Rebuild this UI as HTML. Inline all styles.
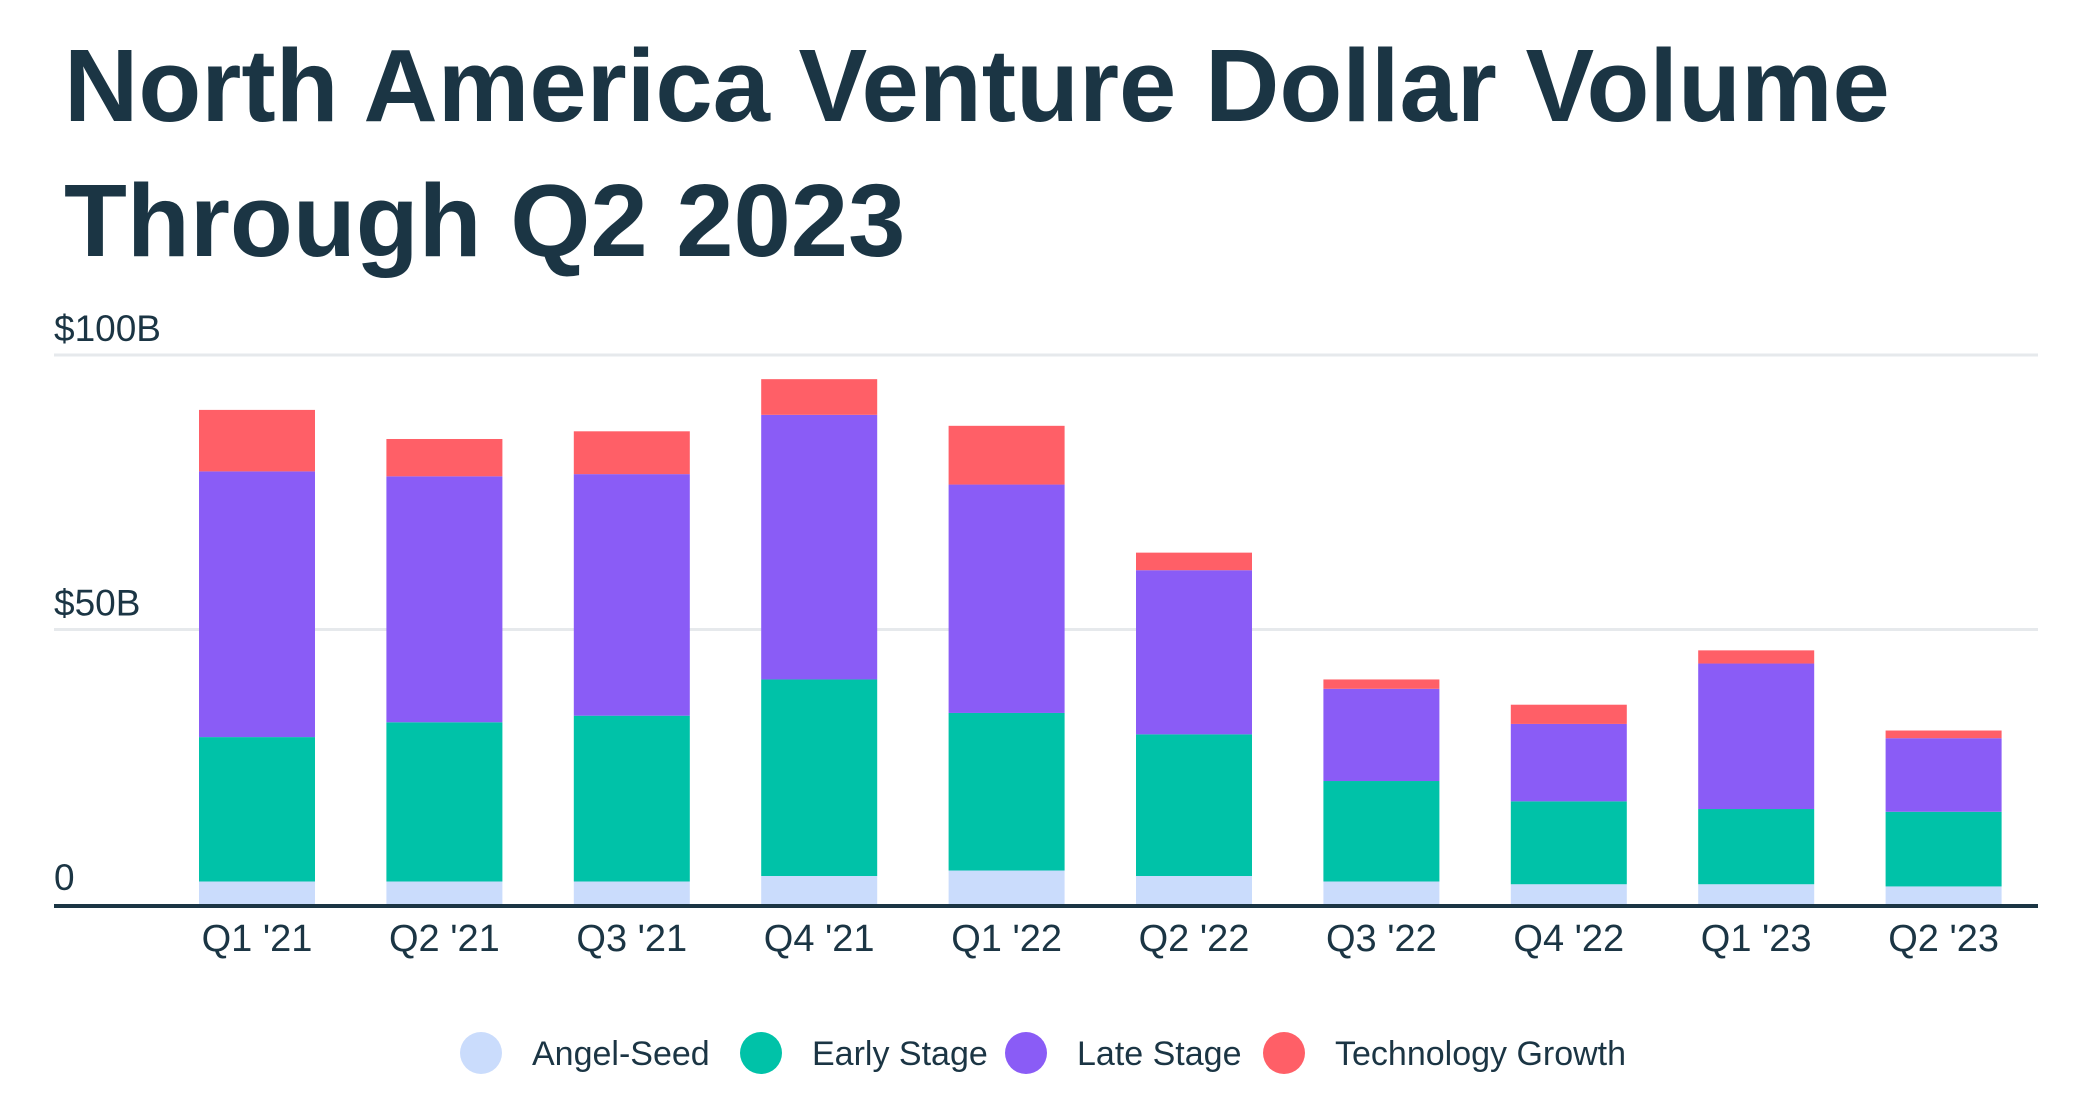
<!DOCTYPE html>
<html><head><meta charset="utf-8">
<style>
html,body{margin:0;padding:0;background:#fff;}
svg{display:block;font-family:"Liberation Sans",sans-serif;}
</style></head>
<body>
<svg id="chart" width="2098" height="1102" viewBox="0 0 2098 1102" xmlns="http://www.w3.org/2000/svg">
  <text x="64" y="121" font-size="103" font-weight="bold" fill="#1b3544">North America Venture Dollar Volume</text>
  <text x="64" y="256" font-size="103" font-weight="bold" fill="#1b3544">Through Q2 2023</text>
  <g id="grid"></g>
  <g id="bars"></g>
  <g id="xlabels"></g>
  <line x1="54" x2="2038" y1="906" y2="906" stroke="#1b3544" stroke-width="4"/>
  <g id="legend"></g>
</svg>
<script>
const categories = ["Q1 '21","Q2 '21","Q3 '21","Q4 '21","Q1 '22","Q2 '22","Q3 '22","Q4 '22","Q1 '23","Q2 '23"];
const angelSeed = [4.1,4.1,4.1,5.1,6.1,5.1,4.1,3.6,3.6,3.2];
const earlyStage = [26.3,29.0,30.2,35.8,28.7,25.8,18.3,15.1,13.7,13.6];
const lateStage = [48.4,44.8,44.0,48.2,41.6,29.9,16.8,14.1,26.5,13.4];
const techGrowth = [11.2,6.8,7.8,6.5,10.7,3.2,1.7,3.5,2.4,1.4];
const yTicks = [0,50,100];
const yTickLabels = ["0","$50B","$100B"];
const seriesNames = ["Angel-Seed","Early Stage","Late Stage","Technology Growth"];

const NS = "http://www.w3.org/2000/svg";
const colors = ["#cadcfc","#00c2a8","#8a5cf6","#ff5f67"];
const series = [angelSeed, earlyStage, lateStage, techGrowth];
const y0 = 904, yTop = 355, vMax = 100;
function yScale(v){ return y0 - (v / vMax) * (y0 - yTop); }
const firstLeft = 199, pitch = 187.4, barW = 116;
function xLeft(i){ return firstLeft + i * pitch; }

const grid = document.getElementById('grid');
yTicks.forEach((t, i) => {
  if (t !== 0) {
    const l = document.createElementNS(NS, 'line');
    l.setAttribute('x1', 54); l.setAttribute('x2', 2038);
    l.setAttribute('y1', yScale(t)); l.setAttribute('y2', yScale(t));
    l.setAttribute('stroke', '#e6e9ec'); l.setAttribute('stroke-width', 3);
    
    
    grid.appendChild(l);
  }
  const tx = document.createElementNS(NS, 'text');
  tx.setAttribute('x', 54);
  tx.setAttribute('y', yScale(t) - 14);
  tx.setAttribute('font-size', 37);
  tx.setAttribute('fill', '#1b3544');
  tx.textContent = yTickLabels[i];
  
  
  grid.appendChild(tx);
});

const bars = document.getElementById('bars');
categories.forEach((c, i) => {
  let cum = 0;
  series.forEach((s, k) => {
    const v = s[i];
    const r = document.createElementNS(NS, 'rect');
    r.setAttribute('x', xLeft(i));
    r.setAttribute('width', barW);
    r.setAttribute('y', yScale(cum + v));
    r.setAttribute('height', yScale(cum) - yScale(cum + v));
    r.setAttribute('fill', colors[k]);
    
    
    bars.appendChild(r);
    cum += v;
  });
  const lbl = document.createElementNS(NS, 'text');
  lbl.setAttribute('x', xLeft(i) + barW / 2);
  lbl.setAttribute('y', 951);
  lbl.setAttribute('text-anchor', 'middle');
  lbl.setAttribute('font-size', 38);
  lbl.setAttribute('fill', '#1b3544');
  lbl.textContent = c;
  
  
  document.getElementById('xlabels').appendChild(lbl);
});

const legend = document.getElementById('legend');
const legX = [481, 761, 1026, 1284];
seriesNames.forEach((n, k) => {
  const g = document.createElementNS(NS, 'g');
  
  
  const c = document.createElementNS(NS, 'circle');
  c.setAttribute('cx', legX[k]); c.setAttribute('cy', 1053); c.setAttribute('r', 21);
  c.setAttribute('fill', colors[k]);
  
  
  const t = document.createElementNS(NS, 'text');
  t.setAttribute('x', legX[k] + 51); t.setAttribute('y', 1065);
  t.setAttribute('font-size', 34); t.setAttribute('fill', '#1b3544');
  t.textContent = n;
  
  
  g.appendChild(c); g.appendChild(t);
  legend.appendChild(g);
});
</script>
</body></html>
